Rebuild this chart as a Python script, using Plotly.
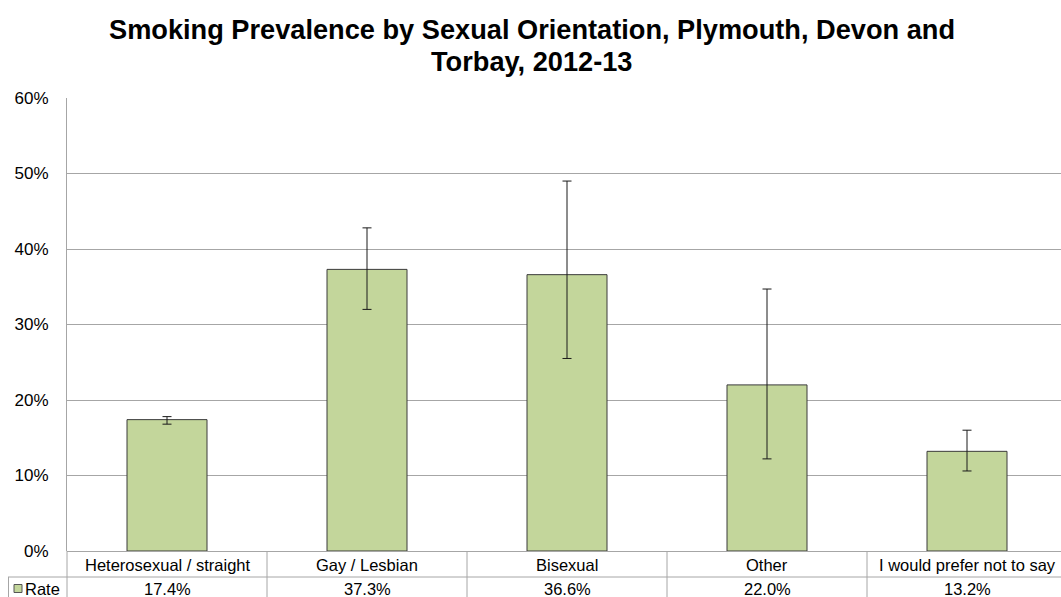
import plotly.graph_objects as go

categories = ["Heterosexual / straight", "Gay / Lesbian", "Bisexual", "Other", "I would prefer not to say"]
rate = [17.4, 37.3, 36.6, 22.0, 13.2]
ci_lower = [16.8, 32.0, 25.5, 12.2, 10.6]
ci_upper = [17.8, 42.8, 49.0, 34.7, 16.0]
y_ticks = [0, 10, 20, 30, 40, 50, 60]
y_ticklabels = [f"{t}%" for t in y_ticks]
series_name = "Rate"
title_lines = ["Smoking Prevalence by Sexual Orientation, Plymouth, Devon and", "Torbay, 2012-13"]

W, H = 1061, 597
ML, MR, MT, MB = 67, 0, 98, 46
plot_w = W - ML - MR
plot_h = H - MT - MB

FONT = "Arial, Liberation Sans, sans-serif"
BAR_FILL = "#c3d69b"
GRID = "#a6a6a6"
TABLE_LINE = "#a6a6a6"

xs = list(range(len(categories)))
err_plus = [u - v for u, v in zip(ci_upper, rate)]
err_minus = [v - l for v, l in zip(rate, ci_lower)]

fig = go.Figure()
fig.add_trace(go.Bar(
    x=xs, y=rate, width=0.4, name=series_name,
    marker=dict(color=BAR_FILL, line=dict(color="#3a3a3a", width=1)),
    error_y=dict(type="data", symmetric=False, array=err_plus, arrayminus=err_minus,
                 color="#1a1a1a", thickness=1, width=4.5),
    showlegend=False, hoverinfo="skip",
))

def py(px):
    # page pixel y -> paper y
    return (H - MB - px) / plot_h

def pxx(px):
    # page pixel x -> paper x
    return (px - ML) / plot_w

row_div = 577
row1_c = 564.5
row2_c = 589
bottom = 600

shapes = []
shapes.append(dict(type="line", xref="paper", yref="paper", x0=pxx(8), x1=1.0,
                   y0=py(row_div), y1=py(row_div), line=dict(color=TABLE_LINE, width=1)))
shapes.append(dict(type="line", xref="paper", yref="paper", x0=0, x1=0,
                   y0=0, y1=py(bottom), line=dict(color=TABLE_LINE, width=1)))
shapes.append(dict(type="line", xref="paper", yref="paper", x0=pxx(8.5), x1=pxx(8.5),
                   y0=py(row_div), y1=py(bottom), line=dict(color=TABLE_LINE, width=1)))
for i in range(len(categories) - 1):
    shapes.append(dict(type="line", xref="x", yref="paper", x0=i + 0.5, x1=i + 0.5,
                       y0=0, y1=py(bottom), line=dict(color=TABLE_LINE, width=1)))
shapes.append(dict(type="rect", xref="paper", yref="paper", x0=pxx(14), x1=pxx(22),
                   y0=py(592.5), y1=py(584.5), fillcolor=BAR_FILL, line=dict(color="#555555", width=1)))

TFONT = dict(family=FONT, size=16.5, color="#000000")
annotations = []
for i, (c, v) in enumerate(zip(categories, rate)):
    annotations.append(dict(x=i, y=py(row1_c), xref="x", yref="paper", text=c, showarrow=False,
                            font=TFONT, xanchor="center", yanchor="middle"))
    annotations.append(dict(x=i, y=py(row2_c), xref="x", yref="paper", text=f"{v:.1f}%", showarrow=False,
                            font=TFONT, xanchor="center", yanchor="middle"))
annotations.append(dict(x=pxx(23), y=py(row2_c), xref="paper", yref="paper", text=series_name,
                        showarrow=False, font=TFONT, xanchor="left", yanchor="middle"))

# title lines
title_centers = [29.5, 61]
for line, yc in zip(title_lines, title_centers):
    annotations.append(dict(x=pxx(532), y=py(yc), xref="paper", yref="paper", text=f"<b>{line}</b>",
                            showarrow=False, xanchor="center", yanchor="middle",
                            font=dict(family=FONT, size=27.2, color="#000000")))

fig.update_layout(
    width=W, height=H,
    margin=dict(l=ML, r=MR, t=MT, b=MB, pad=0),
    paper_bgcolor="white", plot_bgcolor="white",
    font=dict(family=FONT, color="#000000"),
    xaxis=dict(range=[-0.5, 4.47], showticklabels=False, showgrid=False, zeroline=False,
               showline=False, ticks="", fixedrange=True),
    yaxis=dict(range=[0, 60], tickvals=y_ticks, ticktext=y_ticklabels, showgrid=True,
               gridcolor=GRID, gridwidth=1, zeroline=True, zerolinecolor=GRID, zerolinewidth=1,
               showline=True, linecolor=GRID, linewidth=1, ticks="",
               ticklabelstandoff=14, tickfont=dict(family=FONT, size=17, color="#000000")),
    shapes=shapes,
    annotations=annotations,
    bargap=0.6,
)

fig.write_html(
    "out.html",
    config={"displayModeBar": False},
    post_script="document.body.style.margin='0';document.documentElement.style.overflow='hidden';",
)
